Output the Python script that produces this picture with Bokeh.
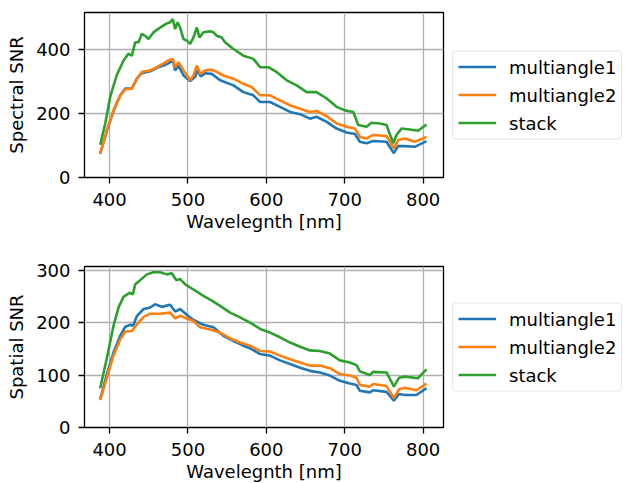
from bokeh.plotting import figure
from bokeh.layouts import column
from bokeh.models import Range1d, FixedTicker, Legend, LegendItem
from bokeh.embed import file_html
from bokeh.resources import INLINE

# ---- data ----
spec_wl_m1 = [388, 396.6, 405, 413.6, 420, 428.5, 434.8, 441, 451.8, 460.3, 468.8, 475, 480.7, 483.6, 488,
              494.3, 502.8, 509, 512, 516.4, 522, 530.4, 541, 558, 570.7, 583.4, 592, 604.7, 617.4, 630.2,
              643, 655.6, 664, 677, 689.6, 702.3, 713, 719.3, 727.8, 736.3, 753.3, 762.7, 768, 776.7, 789.4, 804.2]
spec_m1 = [74, 146, 208, 257, 278, 278, 309, 326, 332, 343, 350, 357, 366, 335, 350,
           319, 302, 314, 335, 316, 326, 324, 304, 288, 267, 257, 236, 236, 221, 205,
           198, 184, 190, 174, 153, 141, 136, 112, 107, 114, 112, 76, 98, 98, 96, 114]

spec_wl_m2 = [388, 396.6, 405, 413.6, 420, 428.5, 434.8, 441, 451.8, 460.3, 468.8, 475, 480.7, 483.6, 488,
              494.3, 502.8, 507, 511.3, 515.5, 522, 530.4, 536.8, 545.2, 558, 570.7, 581.3, 592, 604.7, 617.4,
              630.2, 643, 655.6, 664, 677, 689.6, 702.3, 713, 719.3, 727.8, 736.3, 753.3, 762.7, 768, 776.7,
              789.4, 804.2]
spec_m2 = [74, 148, 210, 257, 276, 278, 309, 330, 335, 345, 357, 366, 371, 345, 361,
           335, 304, 319, 350, 324, 335, 337, 330, 319, 309, 293, 283, 257, 257, 241,
           226, 215, 205, 208, 192, 169, 159, 153, 127, 122, 133, 130, 91, 117, 122,
           112, 127]

spec_wl_st = [388, 394.5, 400.8, 409, 417.8, 424, 428.5, 432.7, 437, 441, 445.4, 449.7, 456, 464.5, 473,
              477, 480.7, 483.6, 486.6, 490, 494.3, 498.5, 502.8, 507, 511.3, 514.6, 519.7, 528.2, 532.5,
              536.8, 543, 547.3, 558, 570.7, 583.4, 592, 602.5, 613, 626, 638.6, 651.4, 664, 677, 689.6,
              700.2, 711, 717.2, 727.8, 734, 744.8, 753.3, 761.8, 766, 772.4, 783, 793.6, 804.2]
spec_st = [102, 169, 252, 319, 366, 387, 381, 423, 423, 449, 443, 433, 454, 469, 482,
           485, 495, 464, 485, 469, 433, 428, 418, 438, 469, 438, 454, 457, 454,
           443, 438, 423, 402, 381, 371, 345, 345, 330, 304, 288, 267, 267, 247, 221,
           210, 205, 164, 159, 171, 169, 164, 107, 133, 153, 150, 146, 166]

spat_wl_m1 = [388, 396.6, 405, 413.6, 420, 426.6, 430, 435, 443.5, 452, 458.2, 466.7, 477.3, 483.6, 490,
              498.5, 507, 519.7, 532.5, 545.2, 558, 570.7, 579.3, 592, 604.7, 617.4, 630.2, 643, 655.6,
              668.4, 681.1, 693.8, 706.6, 715, 719.3, 732, 736.3, 753.3, 762.7, 769.4, 776.7, 791.5, 804.2]
spat_m1 = [54, 102, 143, 175, 192, 196, 194, 213, 226, 229, 235, 230, 234, 221, 226,
           215, 205, 196, 191, 175, 165, 156, 151, 140, 137, 128, 121, 114, 108,
           105, 99, 89, 84, 81, 70, 67, 71, 68, 51, 64, 62, 62, 75]

spat_wl_m2 = [388, 396.6, 405, 413.6, 420, 428.5, 435, 443.5, 452, 464.5, 477.3, 483.6, 490, 498.5, 507,
              515.5, 528.2, 541, 553.8, 566.5, 579.3, 592, 604.7, 617.4, 630.2, 643, 655.6, 668.4, 681.1,
              693.8, 706.6, 715, 719.3, 732, 736.3, 753.3, 762.7, 769.4, 776.7, 791.5, 804.2]
spat_m2 = [52, 95, 137, 168, 183, 184, 197, 211, 217, 217, 219, 208, 213, 208, 203,
           191, 187, 181, 170, 162, 156, 146, 145, 137, 130, 124, 118, 118, 113,
           102, 99, 95, 81, 78, 83, 79, 56, 73, 76, 71, 84]

spat_wl_st = [388, 396.6, 405, 411.5, 417.8, 425.5, 429.8, 432.7, 439, 447.6, 456, 464.5, 473, 479.4, 485,
              490, 496.6, 502.8, 511.3, 519.7, 530.4, 541, 553.8, 566.5, 579.3, 592, 604.7, 617.4, 630.2,
              643, 655.6, 668.4, 681.1, 693.8, 706.6, 715, 719.3, 732, 736.3, 753.3, 762.7, 769.4, 776.7,
              793.6, 804.2]
spat_st = [75, 133, 194, 229, 249, 257, 254, 273, 281, 292, 296, 296, 292, 294, 281,
           283, 273, 267, 259, 251, 242, 232, 219, 210, 200, 188, 181, 172, 162,
           154, 147, 146, 141, 128, 124, 119, 107, 100, 106, 105, 78, 95, 97,
           94, 111]

x_ticks = [400, 500, 600, 700, 800]
spec_ticks = [0, 200, 400]
spat_ticks = [0, 100, 200, 300]
labels = ["multiangle1", "multiangle2", "stack"]
colors = ["#1f77b4", "#ff7f0e", "#2ca02c"]

FONT = "DejaVu Sans"
FS = "18px"


def make_fig(series, ylabel, yticks, ymax, frame_h, top, bottom):
    p = figure(frame_width=359, frame_height=frame_h, output_backend="svg",
               toolbar_location=None, x_range=Range1d(368, 826), y_range=Range1d(0, ymax),
               min_border_left=84, min_border_right=0, min_border_top=top, min_border_bottom=bottom)
    p.outline_line_color = "black"
    p.outline_line_width = 1.3
    p.background_fill_color = "white"
    p.border_fill_color = "white"
    items = []
    for (xs, ys), lab, col in zip(series, labels, colors):
        r = p.line(xs, ys, line_color=col, line_width=2.6)
        items.append(LegendItem(label=lab, renderers=[r]))
    p.xaxis.ticker = FixedTicker(ticks=x_ticks)
    p.yaxis.ticker = FixedTicker(ticks=yticks)
    for ax in (p.xaxis[0], p.yaxis[0]):
        ax.major_tick_in = 0
        ax.major_tick_out = 6
        ax.minor_tick_out = 0
        ax.minor_tick_in = 0
        ax.major_tick_line_width = 1.3
        ax.axis_line_color = None
        ax.major_label_text_font = FONT
        ax.major_label_text_font_size = FS
        ax.major_label_text_color = "black"
        ax.axis_label_text_font = FONT
        ax.axis_label_text_font_size = FS
        ax.axis_label_text_font_style = "normal"
        ax.axis_label_text_color = "black"
    p.xaxis.axis_label = "Wavelegnth [nm]"
    p.yaxis.axis_label = ylabel
    p.xaxis.major_label_standoff = 9
    p.xaxis.axis_label_standoff = 2
    p.yaxis.major_label_standoff = 8
    p.yaxis.axis_label_standoff = 6
    p.grid.grid_line_color = "#b0b0b0"
    p.grid.grid_line_width = 1.3
    leg = Legend(items=items, location="center_left", orientation="vertical")
    leg.label_text_font = FONT
    leg.label_text_font_size = FS
    leg.label_text_color = "black"
    leg.glyph_width = 38
    leg.glyph_height = 20
    leg.label_height = 20
    leg.label_standoff = 13
    leg.spacing = 7
    leg.padding = 5
    leg.margin = 9
    leg.border_line_color = "#cccccc"
    leg.border_line_width = 1.3
    leg.background_fill_color = "white"
    leg.background_fill_alpha = 0.8
    if "border_radius" in Legend.properties():
        leg.border_radius = 4
    p.add_layout(leg, "right")
    return p


p1 = make_fig([(spec_wl_m1, spec_m1), (spec_wl_m2, spec_m2), (spec_wl_st, spec_st)],
              "Spectral SNR", spec_ticks, 516, 165, 12, 73)
p2 = make_fig([(spat_wl_m1, spat_m1), (spat_wl_m2, spat_m2), (spat_wl_st, spat_st)],
              "Spatial SNR", spat_ticks, 307, 161, 16, 56)

layout = column(p1, p2, spacing=0)
open("out.html", "w").write(file_html(layout, INLINE))
